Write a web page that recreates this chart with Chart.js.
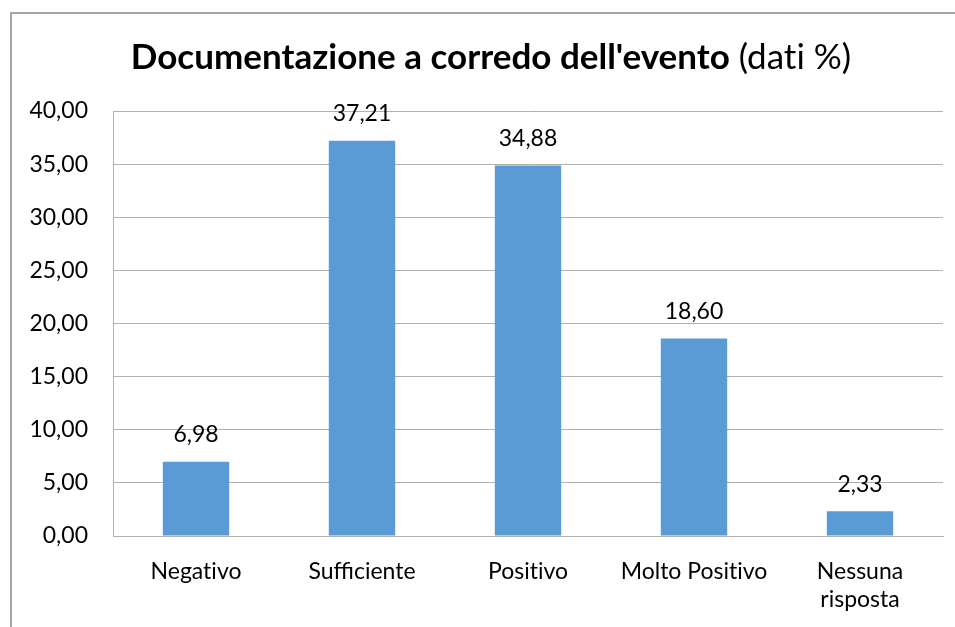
<!DOCTYPE html>
<html>
<head>
<meta charset="utf-8">
<script src="https://cdn.jsdelivr.net/npm/chart.js@4"></script>
<style>
  html, body { margin: 0; padding: 0; background: #fff; }
  #wrap { width: 955px; height: 627px; position: relative; }
</style>
</head>
<body>
<div id="wrap"><canvas id="chart" width="955" height="627"></canvas></div>
<script>
const CATEGORIES = ['Negativo', 'Sufficiente', 'Positivo', 'Molto Positivo', ['Nessuna', 'risposta']];
const VALUES = [6.98, 37.21, 34.88, 18.60, 2.33];
const TITLE_BOLD = "Documentazione a corredo dell'evento";
const TITLE_NORMAL = ' (dati %)';

const FONT = 'Lato, "Open Sans", sans-serif';
const BAR_COLOR = '#5B9BD5';
const GRID_COLOR = '#b0b0b0';

const fmt = v => Number(v).toFixed(2).replace('.', ',');
// Lato joins "ti" into a ligature; a zero-width non-joiner keeps the letters apart
const noLig = s => s.replace(/ti/g, 't\u200Ci');

// frame round the chart plus the two-weight title
const framePlugin = {
    id: 'frame',
    beforeDraw(chart) {
        const ctx = chart.ctx;
        ctx.save();
        ctx.strokeStyle = '#a6a6a6';
        ctx.lineWidth = 2;
        ctx.beginPath();
        ctx.moveTo(11, 640);
        ctx.lineTo(11, 13);
        ctx.lineTo(970, 13);
        ctx.stroke();

        const bold = noLig(TITLE_BOLD);
        const normal = noLig(TITLE_NORMAL);
        ctx.fillStyle = '#000';
        ctx.textBaseline = 'middle';
        ctx.textAlign = 'left';
        ctx.font = `bold 35px ${FONT}`;
        const w = ctx.measureText(bold).width;
        ctx.font = `35px ${FONT}`;
        const w2 = ctx.measureText(normal).width;
        const x0 = 491 - (w + w2) / 2;
        ctx.font = `bold 35px ${FONT}`;
        ctx.fillText(bold, x0, 58);
        ctx.font = `35px ${FONT}`;
        ctx.fillText(normal, x0 + w, 58);
        ctx.restore();
    }
};

// value labels above each bar
const labelPlugin = {
    id: 'valueLabels',
    afterDatasetsDraw(chart) {
        const ctx = chart.ctx;
        const meta = chart.getDatasetMeta(0);
        ctx.save();
        ctx.font = `23px ${FONT}`;
        ctx.fillStyle = '#000';
        ctx.textAlign = 'center';
        ctx.textBaseline = 'middle';
        meta.data.forEach((bar, i) => {
            ctx.fillText(fmt(chart.data.datasets[0].data[i]), bar.x, bar.y - 27);
        });
        ctx.restore();
    }
};

new Chart(document.getElementById('chart').getContext('2d'), {
    type: 'bar',
    data: {
        labels: CATEGORIES,
        datasets: [{
            data: VALUES,
            backgroundColor: BAR_COLOR,
            borderWidth: 0,
            barPercentage: 0.4,
            categoryPercentage: 1
        }]
    },
    options: {
        responsive: false,
        animation: false,
        layout: { padding: { left: 0, top: 111, right: 12, bottom: 0 } },
        plugins: {
            legend: { display: false },
            title: { display: false },
            tooltip: { enabled: false }
        },
        scales: {
            x: {
                grid: { display: false, drawTicks: false },
                border: { display: true, color: GRID_COLOR, width: 1 },
                ticks: {
                    color: '#000',
                    font: { family: FONT, size: 23 },
                    padding: 22,
                    maxRotation: 0,
                    autoSkip: false,
                    callback: (v, i) => {
                        const lbl = CATEGORIES[i];
                        return Array.isArray(lbl) ? lbl.map(noLig) : noLig(lbl);
                    }
                },
                afterFit: scale => { scale.height = 91; }
            },
            y: {
                min: 0,
                max: 40,
                grid: { color: GRID_COLOR, drawTicks: false },
                border: { display: true, color: GRID_COLOR, width: 1 },
                ticks: {
                    stepSize: 5,
                    color: '#000',
                    font: { family: FONT, size: 23 },
                    padding: 25,
                    callback: v => fmt(v)
                },
                afterFit: scale => { scale.width = 113; }
            }
        }
    },
    plugins: [framePlugin, labelPlugin]
});
</script>
</body>
</html>
